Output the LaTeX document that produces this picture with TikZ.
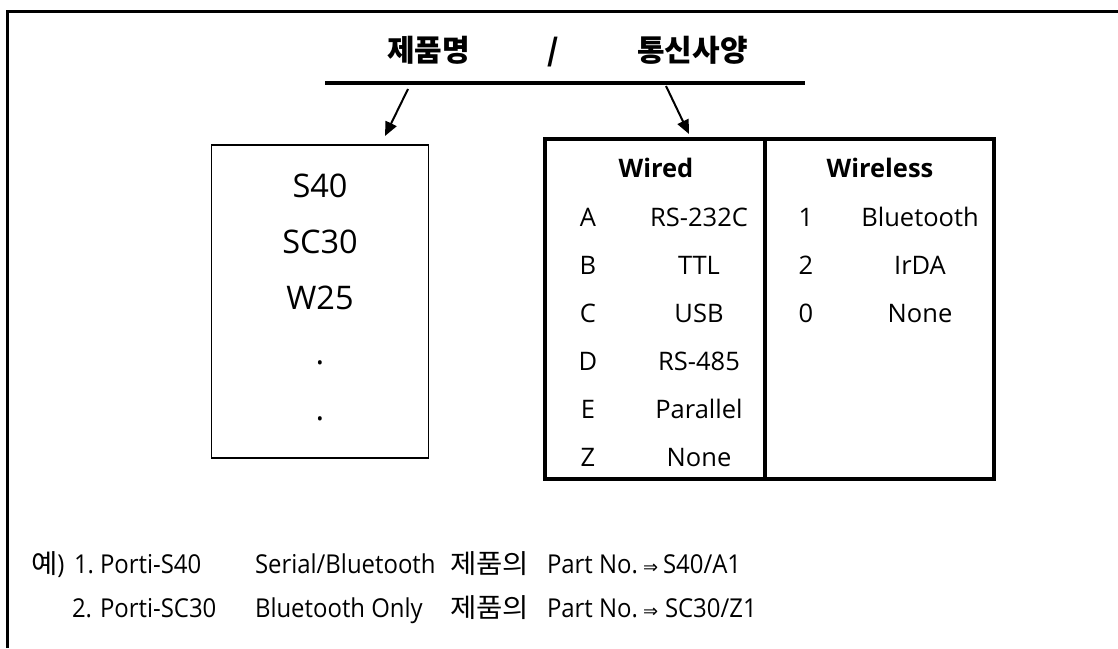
\documentclass[tikz,border=0pt]{standalone}
\usepackage{fontspec}
\setmainfont{Open Sans}
\newfontfamily\kr{Noto Sans CJK KR}
\newfontfamily\krw[FakeStretch=1.08]{Noto Sans CJK KR}
\newfontfamily\notef[FakeStretch=0.92]{Open Sans}
\newfontfamily\symf{DejaVu Sans}
\usetikzlibrary{arrows.meta}
\begin{document}
\begin{tikzpicture}[x=1pt,y=-1pt,
  every node/.style={inner sep=0pt, outer sep=0pt},
  ttl/.style={anchor=base, font=\kr\bfseries\fontsize{30}{36}\selectfont},
  tx/.style={anchor=base, font=\fontsize{25.5}{30}\selectfont},
  hd/.style={anchor=base, font=\bfseries\fontsize{25.5}{30}\selectfont},
  bx/.style={anchor=base, font=\fontsize{32.5}{38}\selectfont},
  note/.style={anchor=base west, font=\notef\fontsize{26}{30}\selectfont},
  krn/.style={anchor=base west, font=\krw\fontsize{26.5}{30}\selectfont},
  arr/.style={line width=2pt, -{Triangle[length=14pt,width=12pt]}},
  frame/.style={line width=3pt},
]
\useasboundingbox (0,0) rectangle (1118,648);
% outer frame (top and left only)
\draw[frame] (7,648) -- (7,11) -- (1118,11);

% title
\node[ttl] (t1) at (428.5,61) {제품명};
\node[ttl] (t2) at (553,61) {/};
\node[ttl] (t3) at (692.5,61) {통신사양};
\coordinate (barL) at (325,83);
\coordinate (barR) at (805,83);
\draw[line width=4.5pt] (barL) -- (barR);

% boxes
\node[draw, line width=1.5pt, minimum width=217pt, minimum height=312.7pt] (prod) at (320.2,301.4) {};
\node[draw, line width=3.5pt, minimum width=449pt, minimum height=340pt] (comm) at (769.5,309) {};
\coordinate (divT) at (765,139);
\coordinate (divB) at (765,479);
\draw[line width=3.5pt] (divT) -- (divB);

% arrows
\coordinate (a1s) at (408,89);
\coordinate (a1e) at (385,136);
\coordinate (a2s) at (666,86);
\coordinate (a2e) at (689,134);
\draw[arr] (a1s) -- (a1e);
\draw[arr] (a2s) -- (a2e);

% product names
\node[bx] (p1) at (320,197.5) {S40};
\node[bx] (p2) at (320,253.5) {SC30};
\node[bx] (p3) at (320,309.5) {W25};
\node[bx] (p4) at (320,364) {.};
\node[bx] (p5) at (320,420) {.};

% wired column
\node[hd] (hw) at (656,177.5) {Wired};
\node[tx] (wa) at (588,226) {A};
\node[tx] (wav) at (699,226) {RS-232C};
\node[tx] (wb) at (588,274) {B};
\node[tx] (wbv) at (699,274) {TTL};
\node[tx] (wc) at (588,322) {C};
\node[tx] (wcv) at (699,322) {USB};
\node[tx] (wd) at (588,370) {D};
\node[tx] (wdv) at (699,370) {RS-485};
\node[tx] (we) at (588,418) {E};
\node[tx] (wev) at (699,418) {Parallel};
\node[tx] (wz) at (588,466) {Z};
\node[tx] (wzv) at (699,466) {None};

% wireless column
\node[hd] (hl) at (880,177.5) {Wireless};
\node[tx] (l1) at (806,226) {1};
\node[tx] (l1v) at (920,226) {Bluetooth};
\node[tx] (l2) at (806,274) {2};
\node[tx] (l2v) at (920,274) {IrDA};
\node[tx] (l0) at (806,322) {0};
\node[tx] (l0v) at (920,322) {None};

% examples
\node[krn] (e0) at (31,573.5) {예\notef\fontsize{26}{30}\selectfont)};
\node[note] (e1a) at (74,573.5) {1.};
\node[note] (e1b) at (100,573.5) {Porti-S40};
\node[note] (e1c) at (255,573.5) {Serial/Bluetooth};
\node[krn] (e1d) at (450,573.5) {제품의};
\node[note] (e1e) at (547,573.5) {Part No.};
\node[anchor=base west, font=\symf\fontsize{18}{24}\selectfont] (e1f) at (643,573.5) {⇒};
\node[note] (e1g) at (663,573.5) {S40/A1};

\node[note] (e2a) at (72,617.5) {2.};
\node[note] (e2b) at (100,617.5) {Porti-SC30};
\node[note] (e2c) at (255,617.5) {Bluetooth Only};
\node[krn] (e2d) at (450,617.5) {제품의};
\node[note] (e2e) at (547,617.5) {Part No.};
\node[anchor=base west, font=\symf\fontsize{18}{24}\selectfont] (e2f) at (643,617.5) {⇒};
\node[note] (e2g) at (665,617.5) {SC30/Z1};
\end{tikzpicture}
\end{document}
